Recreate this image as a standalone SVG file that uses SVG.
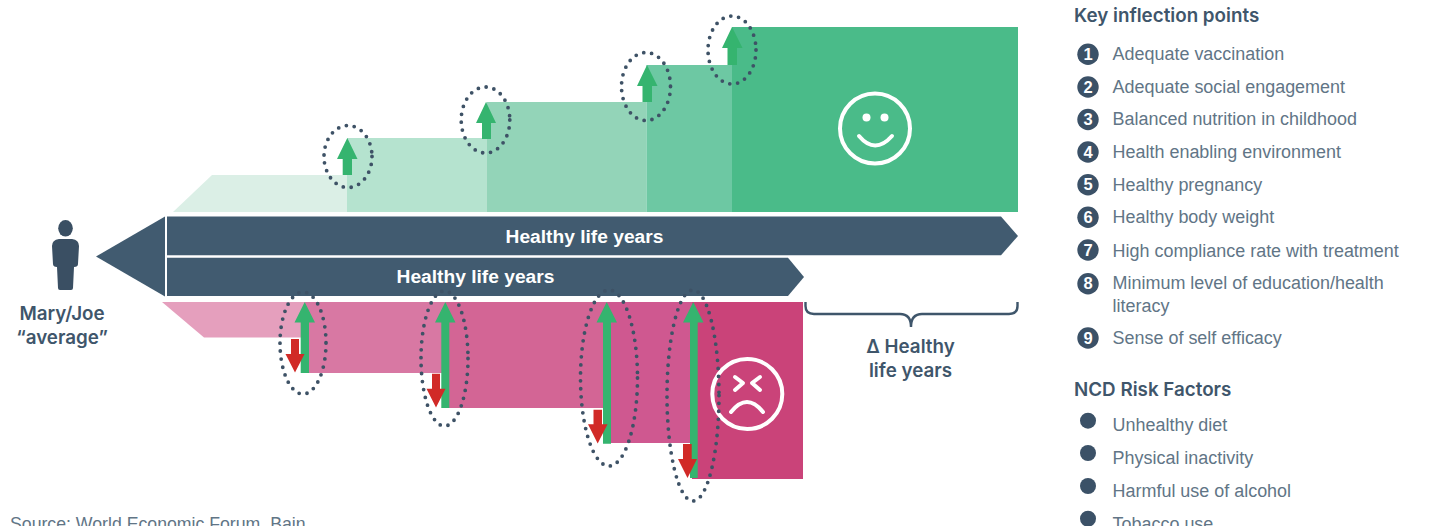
<svg xmlns="http://www.w3.org/2000/svg" width="1438" height="526" viewBox="0 0 1438 526">
<style>
text{font-family:"Liberation Sans",Arial,sans-serif}
.li{font-size:17.950px;fill:#617586}
.h{font-family:Inter,"Liberation Sans",sans-serif;font-size:18.800px;font-weight:600;fill:#3f566b}
.m{font-family:Inter,"Liberation Sans",sans-serif;font-size:18.800px;font-weight:600;fill:#3f566b;text-anchor:middle}
.w{font-size:19.200px;font-weight:700;fill:#fff;text-anchor:middle}
.n{font-size:16.500px;font-weight:700;fill:#fff;text-anchor:middle}
.dot{fill:none;stroke:#3e5266;stroke-width:3.800;stroke-linecap:round;stroke-dasharray:0 8}
.face{fill:none;stroke:#fff;stroke-width:4;stroke-linecap:round;stroke-linejoin:round}
.up{fill:#35b46f}
.down{fill:#d12a27}
.bar{fill:#415b70}
.bul{fill:#3b5167}
</style>
<g id="healthy-steps">
<polygon points="173,212 212,175 347,175 347,212" fill="#dbefe6"/>
<rect x="347" y="138" width="139.500" height="74" fill="#b5e3cf"/>
<rect x="486.500" y="102" width="160" height="110" fill="#93d4b8"/>
<rect x="646.500" y="65" width="85.500" height="147" fill="#6dc8a3"/>
<rect x="732" y="27" width="286" height="185" fill="#4abb89"/>
</g>
<g id="smiley">
<circle cx="875" cy="128.500" r="35" class="face"/>
<circle cx="866.500" cy="117.600" r="4" fill="#fff"/>
<circle cx="884.500" cy="117.600" r="4" fill="#fff"/>
<path d="M859,136 Q875,155 892,136" class="face"/>
</g>
<g id="unhealthy-steps">
<polygon points="162,302 305,302 305,337.500 204,337.500" fill="#e59fbd"/>
<rect x="305" y="302" width="141" height="71" fill="#d878a3"/>
<rect x="446" y="302" width="161" height="106" fill="#d36595"/>
<rect x="607" y="302" width="85" height="141" fill="#cf5890"/>
<rect x="692" y="302" width="111" height="177" fill="#ca4379"/>
</g>
<g id="frowny">
<circle cx="747.300" cy="394" r="35" class="face"/>
<path d="M735,377 L743,383 L735,390 M760,377 L752,383 L760,390" class="face"/>
<path d="M731,412 Q747,392 763,412" class="face"/>
</g>
<g id="person" fill="#3a4f63">
<ellipse cx="65.500" cy="228.300" rx="7.300" ry="8.300"/>
<path d="M59,239 H72 Q79,240 79,246 L78,264 Q78,267 74,267 L73,288 Q73,290 71,290 H60 Q58,290 58,288 L57,267 Q53,267 53,264 L52,246 Q52,240 59,239 Z"/>
<text x="62" y="320" class="m">Mary/Joe</text>
<text x="62" y="344" class="m">“average”</text>
</g>
<g id="bars">
<polygon points="96,256.500 165,216.500 165,296.500" class="bar"/>
<polygon points="167,216.500 1001,216.500 1018,236 1001,255.300 167,255.300" class="bar"/>
<polygon points="167,257.700 788,257.700 804,277 788,296 167,296" class="bar"/>
<text x="584.500" y="243" class="w">Healthy life years</text>
<text x="475.500" y="283" class="w">Healthy life years</text>
</g>
<g id="connectors">
<path class="up" d="M347.300,138 L357.500,159 H352 V175 H342.700 V159 H337 Z"/>
<path class="up" d="M486,102 L496,123 H491 V139 H482 V123 H476 Z"/>
<path class="up" d="M647,65 L657.500,86 H652 V102 H642.500 V86 H637 Z"/>
<path class="up" d="M732,27 L742.500,48 H737 V65 H727.500 V48 H722 Z"/>
<path class="up" d="M304.700,302 L315,322.500 H309 V373 H300.700 V322.500 H294.500 Z"/>
<path class="up" d="M445.300,302 L455.500,322.500 H449.300 V408 H441.300 V322.500 H435 Z"/>
<path class="up" d="M606.700,302 L617,322.500 H611 V443.700 H603 V322.500 H596.500 Z"/>
<path class="up" d="M693.300,302 L703.500,322.500 H697.700 V478 H690 V322.500 H683 Z"/>
<path class="down" d="M291,339 H299 V354 H304.500 L295,372.500 L285.500,354 H291 Z"/>
<path class="down" d="M432,373.700 H440 V388.700 H445.500 L436,407.500 L426.500,388.700 H432 Z"/>
<path class="down" d="M593.500,409.700 H602 V424.300 H607.500 L597.700,443.500 L588,424.300 H593.500 Z"/>
<path class="down" d="M683,444 H691.700 V459 H697 L687.500,478 L678,459 H683 Z"/>
<ellipse class="dot" cx="348" cy="156.500" rx="24" ry="31"/>
<ellipse class="dot" cx="485.500" cy="120" rx="24.300" ry="33"/>
<ellipse class="dot" cx="646" cy="86.500" rx="24.500" ry="34"/>
<ellipse class="dot" cx="732" cy="50" rx="24" ry="34"/>
<ellipse class="dot" cx="303" cy="343" rx="23" ry="51"/>
<ellipse class="dot" cx="444.500" cy="358.500" rx="23.500" ry="67.500"/>
<ellipse class="dot" cx="609" cy="378" rx="28.500" ry="88"/>
<ellipse class="dot" cx="693" cy="395.500" rx="26" ry="105.500"/>
<path d="M805.500,302 V306 Q805.500,314 814,314 H900 Q911,314 911,327 Q911,314 922,314 H1009 Q1017.500,314 1017.500,306 V302" fill="none" stroke="#3f566b" stroke-width="2.400"/>
</g>
<g id="delta-label">
<text x="910.500" y="353" class="m">Δ Healthy</text>
<text x="910.500" y="377" class="m">life years</text>
</g>
<g id="key-inflection-points">
<text x="1074" y="22" class="h">Key inflection points</text>
<g id="ip1"><circle cx="1088" cy="54.300" r="10.700" class="bul"/><text x="1088" y="60" class="n">1</text><text x="1112.600" y="60" class="li">Adequate vaccination</text></g>
<g id="ip2"><circle cx="1088" cy="87" r="10.700" class="bul"/><text x="1088" y="92.700" class="n">2</text><text x="1112.600" y="93" class="li">Adequate social engagement</text></g>
<g id="ip3"><circle cx="1088" cy="119.500" r="10.700" class="bul"/><text x="1088" y="125.200" class="n">3</text><text x="1112.600" y="125" class="li">Balanced nutrition in childhood</text></g>
<g id="ip4"><circle cx="1088" cy="152" r="10.700" class="bul"/><text x="1088" y="157.700" class="n">4</text><text x="1112.600" y="158" class="li">Health enabling environment</text></g>
<g id="ip5"><circle cx="1088" cy="184.700" r="10.700" class="bul"/><text x="1088" y="190.400" class="n">5</text><text x="1112.600" y="190.500" class="li">Healthy pregnancy</text></g>
<g id="ip6"><circle cx="1088" cy="217.300" r="10.700" class="bul"/><text x="1088" y="223" class="n">6</text><text x="1112.600" y="223" class="li">Healthy body weight</text></g>
<g id="ip7"><circle cx="1088" cy="250" r="10.700" class="bul"/><text x="1088" y="255.700" class="n">7</text><text x="1112.600" y="256.500" class="li">High compliance rate with treatment</text></g>
<g id="ip8"><circle cx="1088" cy="283.700" r="10.700" class="bul"/><text x="1088" y="289.400" class="n">8</text><text x="1112.600" y="289" class="li">Minimum level of education/health</text><text x="1112.600" y="312" class="li">literacy</text></g>
<g id="ip9"><circle cx="1088" cy="338" r="10.700" class="bul"/><text x="1088" y="343.700" class="n">9</text><text x="1112.600" y="343.700" class="li">Sense of self efficacy</text></g>
</g>
<g id="ncd-risk-factors">
<text x="1074" y="395.700" class="h">NCD Risk Factors</text>
<g id="rf1"><circle cx="1088" cy="420.700" r="8" class="bul"/><text x="1112.600" y="431" class="li">Unhealthy diet</text></g>
<g id="rf2"><circle cx="1088" cy="453" r="8" class="bul"/><text x="1112.600" y="464" class="li">Physical inactivity</text></g>
<g id="rf3"><circle cx="1088" cy="486" r="8" class="bul"/><text x="1112.600" y="497" class="li">Harmful use of alcohol</text></g>
<g id="rf4"><circle cx="1088" cy="518.700" r="8" class="bul"/><text x="1112.600" y="529.500" class="li">Tobacco use</text></g>
</g>
<text id="source" x="10" y="530" class="li" style="font-size:17.700px">Source: World Economic Forum, Bain</text>
</svg>
